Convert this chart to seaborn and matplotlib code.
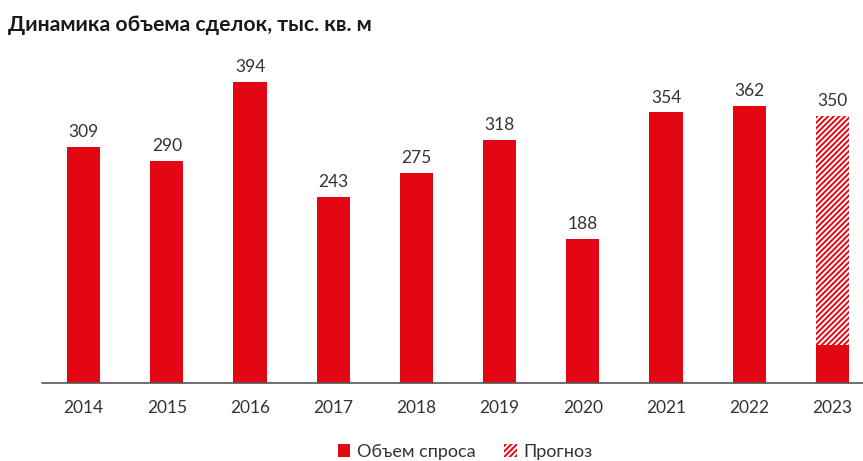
import numpy as np
import pandas as pd
import matplotlib
matplotlib.use("Agg")
import matplotlib.pyplot as plt
from matplotlib.patches import Patch
import seaborn as sns

# Deal volume, thousand sq. m
years = ["2014", "2015", "2016", "2017", "2018", "2019", "2020", "2021", "2022", "2023"]
demand = [309, 290, 394, 243, 275, 318, 188, 354, 362, 50]
forecast = [np.nan, np.nan, np.nan, np.nan, np.nan, np.nan, np.nan, np.nan, np.nan, 350]
labels = ["309", "290", "394", "243", "275", "318", "188", "354", "362", "350"]

RED = "#E30613"
TEXT = "#333333"

sns.set_theme(style="white")
plt.rcParams["font.family"] = ["Lato", "DejaVu Sans"]
plt.rcParams["hatch.linewidth"] = 1.4

df = pd.DataFrame({"year": years, "demand": demand, "forecast": forecast})

fig = plt.figure(figsize=(8.63, 4.61), dpi=100)
ax = fig.add_axes([42 / 863, 78 / 461, 832 / 863, 321 / 461])

# Forecast bar (hatched), drawn first so the actual part sits on top
sns.barplot(data=df, x="year", y="forecast", order=years, ax=ax,
            color="white", width=0.40, edgecolor=RED, linewidth=0,
            hatch="//////", saturation=1)
# Actual demand
sns.barplot(data=df, x="year", y="demand", order=years, ax=ax,
            color=RED, width=0.40, linewidth=0, saturation=1)

# Value labels above each bar
tops = [f if not np.isnan(f) else d for d, f in zip(demand, forecast)]
for i, (t, lab) in enumerate(zip(tops, labels)):
    ax.text(i, t + 9, lab, ha="center", va="bottom", fontsize=12.5, color=TEXT)

ax.set_xlim(-0.5, 9.5)
ax.set_ylim(0, 420)
ax.set_xlabel("")
ax.set_ylabel("")
ax.set_yticks([])
ax.tick_params(axis="x", length=0, pad=12, labelsize=12.5, labelcolor=TEXT)
for s in ["top", "right", "left", "bottom"]:
    ax.spines[s].set_visible(False)

# baseline running to the right edge of the figure
ax.plot([-0.5, 10.5], [0, 0], color="#555555", lw=1.2, clip_on=False, zorder=5)

fig.text(8 / 863, 1 - 25 / 461, "Динамика объема сделок, тыс. кв. м",
         fontsize=15.3, fontweight="bold", color="#1a1a1a", va="center", ha="left")

handles = [Patch(facecolor=RED, edgecolor="none", label="Объем спроса"),
           Patch(facecolor="white", edgecolor=RED, linewidth=0, hatch="//////", label="Прогноз")]
fig.legend(handles=handles, loc="center", bbox_to_anchor=(465 / 863, 1 - 452 / 461),
           ncol=2, frameon=False, fontsize=13, handlelength=0.7, handleheight=0.7,
           handletextpad=0.35, columnspacing=1.6, labelcolor=TEXT)

fig.savefig("out.png", dpi=100, facecolor="white")
